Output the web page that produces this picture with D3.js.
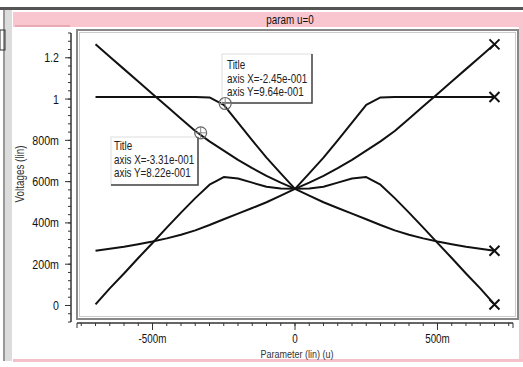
<!DOCTYPE html>
<html>
<head>
<meta charset="utf-8">
<script src="https://cdn.jsdelivr.net/npm/d3@7"></script>
<style>
  body { margin: 0; background: #fff; }
  svg text { font-family: "Liberation Sans", Arial, sans-serif; fill: #111; }
</style>
</head>
<body>
<script>
// sweep of parameter u (shared by all four traces)
var sweep = [-0.7, -0.65, -0.6, -0.55, -0.5, -0.45, -0.4, -0.35, -0.3, -0.25, -0.2, -0.15, -0.1, -0.05, 0,
             0.05, 0.1, 0.15, 0.2, 0.25, 0.3, 0.35, 0.4, 0.45, 0.5, 0.55, 0.6, 0.65, 0.7];

var vout1 = [1.265, 1.205, 1.145, 1.085, 1.025, 0.965, 0.905, 0.845, 0.795, 0.75, 0.705, 0.665, 0.628, 0.595, 0.565,
             0.532, 0.5, 0.472, 0.445, 0.418, 0.39, 0.364, 0.343, 0.325, 0.31, 0.297, 0.285, 0.275, 0.265];
var vout2 = [0.265, 0.275, 0.285, 0.297, 0.31, 0.325, 0.343, 0.364, 0.39, 0.418, 0.445, 0.472, 0.5, 0.532, 0.565,
             0.595, 0.628, 0.665, 0.705, 0.75, 0.795, 0.845, 0.905, 0.965, 1.025, 1.085, 1.145, 1.205, 1.265];
var vout3 = [1.01, 1.01, 1.01, 1.01, 1.01, 1.01, 1.01, 1.01, 1.008, 0.972, 0.886, 0.8, 0.716, 0.64, 0.565,
             0.567, 0.575, 0.595, 0.615, 0.622, 0.585, 0.52, 0.45, 0.377, 0.303, 0.23, 0.155, 0.083, 0.005];
var vout4 = [0.005, 0.083, 0.155, 0.23, 0.303, 0.377, 0.45, 0.52, 0.585, 0.622, 0.615, 0.595, 0.575, 0.567, 0.565,
             0.64, 0.716, 0.8, 0.886, 0.972, 1.008, 1.01, 1.01, 1.01, 1.01, 1.01, 1.01, 1.01, 1.01];

var xTicks = [-0.5, 0, 0.5];
var yTicks = [0, 0.2, 0.4, 0.6, 0.8, 1, 1.2];
var xTickLabels = ["-500m", "0", "500m"];
var yTickLabels = ["0", "200m", "400m", "600m", "800m", "1", "1.2"];

// cursor read-outs
var cursorX = [-0.245, -0.331];
var cursorY = [0.964, 0.822];
var cursorText = [["Title", "axis X=-2.45e-001", "axis Y=9.64e-001"],
                  ["Title", "axis X=-3.31e-001", "axis Y=8.22e-001"]];

var W = 523, H = 367;
var svg = d3.select("body").append("svg").attr("width", W).attr("height", H);

// narrow text: translate to the anchor point, then squeeze horizontally
function label(parent, px, py, str, size, anchor, color) {
  return parent.append("text")
    .attr("transform", "translate(" + px + "," + py + ") scale(0.82,1)")
    .attr("text-anchor", anchor || "start")
    .style("font-size", size + "px").style("fill", color || "#111")
    .text(str);
}

// window chrome
svg.append("rect").attr("x", 0).attr("y", 7).attr("width", W).attr("height", 3).attr("fill", "#555");
svg.append("rect").attr("x", 13).attr("y", 12).attr("width", W - 13).attr("height", 15).attr("fill", "#f9c6d0");
svg.append("rect").attr("x", 15).attr("y", 25).attr("width", 55).attr("height", 2).attr("fill", "#e8a8b4");
svg.append("rect").attr("x", 519).attr("y", 12).attr("width", 4).attr("height", 348).attr("fill", "#f9c6d0");
svg.append("rect").attr("x", 13).attr("y", 359).attr("width", W - 13).attr("height", 3).attr("fill", "#f4c0ca");
svg.append("rect").attr("x", 4).attr("y", 10).attr("width", 8).attr("height", 351).attr("fill", "#dcdcdc");
svg.append("rect").attr("x", 3).attr("y", 10).attr("width", 2).attr("height", 351).attr("fill", "#999");
svg.append("rect").attr("x", 0).attr("y", 30).attr("width", 5).attr("height", 20).attr("fill", "none").attr("stroke", "#333");
label(svg, 290, 24, "param u=0", 12, "middle");

// plot frame
svg.append("rect").attr("x", 77).attr("y", 30).attr("width", 441).attr("height", 289)
  .attr("fill", "#fff").attr("stroke", "#888").attr("stroke-width", 2);
svg.append("rect").attr("x", 79.5).attr("y", 32.5).attr("width", 436).attr("height", 284)
  .attr("fill", "none").attr("stroke", "#ccc").attr("stroke-width", 1);

var x = d3.scaleLinear().domain([-0.765, 0.765]).range([77, 513]);
var y = d3.scaleLinear().domain([-0.08, 1.32]).range([322, 33]);

// x axis
var gx = svg.append("g").attr("transform", "translate(0,323)");
gx.append("line").attr("x1", 77).attr("x2", 513).attr("stroke", "#333").attr("stroke-width", 1.5);
gx.selectAll(".minor").data(d3.range(-0.75, 0.76, 0.05)).enter().append("line")
  .attr("x1", function(d) { return x(d); }).attr("x2", function(d) { return x(d); })
  .attr("y1", 0).attr("y2", 3).attr("stroke", "#333");
gx.selectAll(".major").data(xTicks).enter().append("line")
  .attr("x1", function(d) { return x(d); }).attr("x2", function(d) { return x(d); })
  .attr("y1", 0).attr("y2", 7).attr("stroke", "#333");
[77, 513].forEach(function(px) {
  gx.append("line").attr("x1", px).attr("x2", px).attr("y1", 0).attr("y2", 5).attr("stroke", "#333");
});
xTicks.forEach(function(d, i) { label(gx, x(d), 19.5, xTickLabels[i], 12, "middle"); });
label(svg, 297, 358, "Parameter (lin) (u)", 11, "middle", "#333");

// y axis
var gy = svg.append("g").attr("transform", "translate(71,0)");
gy.append("line").attr("y1", 33).attr("y2", 322).attr("stroke", "#333").attr("stroke-width", 1.5);
gy.selectAll(".minor").data(d3.range(-0.08, 1.33, 0.04)).enter().append("line")
  .attr("y1", function(d) { return y(d); }).attr("y2", function(d) { return y(d); })
  .attr("x1", 0).attr("x2", -3).attr("stroke", "#333");
gy.selectAll(".major").data(yTicks).enter().append("line")
  .attr("y1", function(d) { return y(d); }).attr("y2", function(d) { return y(d); })
  .attr("x1", 0).attr("x2", -6).attr("stroke", "#333");
yTicks.forEach(function(d, i) { label(gy, -12, y(d) + 4.5, yTickLabels[i], 13, "end"); });
svg.append("text").attr("transform", "translate(24,174) rotate(-90) scale(0.82,1)").attr("text-anchor", "middle")
  .style("font-size", "12px").style("fill", "#333").text("Voltages (lin)");

// traces
var traces = [vout1, vout2, vout3, vout4];
var line = d3.line().x(function(d) { return x(d[0]); }).y(function(d) { return y(d[1]); });
svg.selectAll(".trace").data(traces).enter().append("path")
  .attr("d", function(v) { return line(d3.zip(sweep, v)); })
  .attr("fill", "none").attr("stroke", "#111").attr("stroke-width", 2).attr("stroke-linejoin", "round");

// end markers
var last = sweep.length - 1;
svg.selectAll(".mark").data(traces).enter().append("path")
  .attr("transform", function(v) { return "translate(" + x(sweep[last]) + "," + y(v[last]) + ")"; })
  .attr("d", "M-5,-5L5,5M-5,5L5,-5").attr("stroke", "#111").attr("stroke-width", 2).attr("fill", "none");

// cursor boxes
var boxes = [{ left: 222, top: 54, right: 312, bottom: 103, tx: 227, ty: 69 },
             { left: 111, top: 137, right: 198, bottom: 185, tx: 114, ty: 150 }];
boxes.forEach(function(b, i) {
  svg.append("rect").attr("x", b.left).attr("y", b.top).attr("width", b.right - b.left).attr("height", b.bottom - b.top)
    .attr("fill", "#fff").attr("stroke", "#ddd");
  svg.append("path").attr("d", "M" + b.right + "," + b.top + "V" + b.bottom + "H" + b.left)
    .attr("stroke", "#444").attr("stroke-width", 1.5).attr("fill", "none");
  cursorText[i].forEach(function(t, k) { label(svg, b.tx, b.ty + k * 13.5, t, 12, "start", "#222"); });
});
cursorX.forEach(function(cx, i) {
  var g = svg.append("g").attr("transform", "translate(" + x(cx) + "," + (y(cursorY[i]) - 3) + ")");
  g.append("circle").attr("r", 6).attr("fill", "none").attr("stroke", "#666").attr("stroke-width", 1.2);
  g.append("path").attr("d", "M-6,0H6M0,-6V6").attr("stroke", "#888").attr("stroke-width", 1);
});
</script>
</body>
</html>
